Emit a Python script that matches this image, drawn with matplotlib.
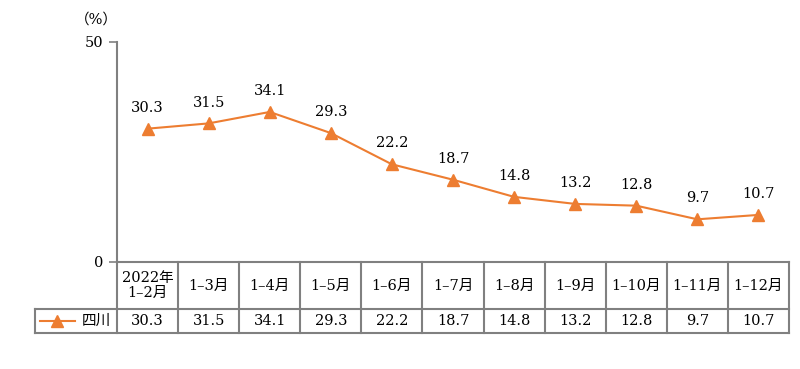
import matplotlib.pyplot as plt
from matplotlib.transforms import blended_transform_factory

plt.rcParams['font.family'] = ['DejaVu Serif', 'Noto Sans CJK SC']

categories = ['2022年\n1–2月', '1–3月', '1–4月', '1–5月', '1–6月', '1–7月',
              '1–8月', '1–9月', '1–10月', '1–11月', '1–12月']
values = [30.3, 31.5, 34.1, 29.3, 22.2, 18.7, 14.8, 13.2, 12.8, 9.7, 10.7]
series_name = '四川'

orange = '#ED7D31'
gray = '#808080'

fig = plt.figure(figsize=(8, 3.69), dpi=100)
ax = fig.add_axes([0.14625, 0.29, 0.84, 0.5962])

x = list(range(len(values)))
ax.plot(x, values, color=orange, lw=1.5, marker='^', markersize=8, clip_on=False)
for xi, v in zip(x, values):
    ax.annotate(f'{v:.1f}', (xi, v), xytext=(0, 10), textcoords='offset points',
                ha='center', va='bottom', fontsize=10.5)

ax.set_xlim(-0.5, len(values) - 0.5)
ax.set_ylim(0, 50)
ax.set_yticks([0, 50])
ax.set_xticks([])
for s in ['top', 'right', 'bottom']:
    ax.spines[s].set_visible(False)
ax.spines['left'].set_color(gray)
ax.spines['left'].set_linewidth(1.5)
ax.tick_params(axis='y', colors=gray, length=6, width=1.2, labelcolor='black', labelsize=10.5)
ax.text(-0.03, 1.1, '（%）', transform=ax.transAxes, ha='center', va='center', fontsize=10.5)

# table below the axis
tr = blended_transform_factory(ax.transData, ax.transAxes)
y0, y1, y2 = 0.0, -0.2136, -0.3227
xl = -1.842
xr = len(values) - 0.5
lk = dict(color=gray, lw=1.5, transform=tr, clip_on=False)
ax.plot([-0.5, xr], [y0, y0], **lk)
ax.plot([xl, xr], [y1, y1], **lk)
ax.plot([xl, xr], [y2, y2], **lk)
ax.plot([xl, xl], [y1, y2], **lk)
for i in range(len(values) + 1):
    ax.plot([i - 0.5, i - 0.5], [y0, y2], **lk)
for i, (c, v) in enumerate(zip(categories, values)):
    ax.text(i, (y0 + y1) / 2, c, transform=tr, ha='center', va='center',
            fontsize=10.5, linespacing=1.1)
    ax.text(i, (y1 + y2) / 2, f'{v:.1f}', transform=tr, ha='center', va='center',
            fontsize=10.5)

ym = (y1 + y2) / 2
ax.plot([xl + 0.08, xl + 0.65], [ym, ym], color=orange, lw=1.5, transform=tr, clip_on=False)
ax.plot([xl + 0.365], [ym], color=orange, marker='^', markersize=8, transform=tr, clip_on=False)
ax.text(xl + 1.0, ym, series_name, transform=tr, ha='center', va='center', fontsize=10.5)

fig.savefig('out.png', dpi=100)
